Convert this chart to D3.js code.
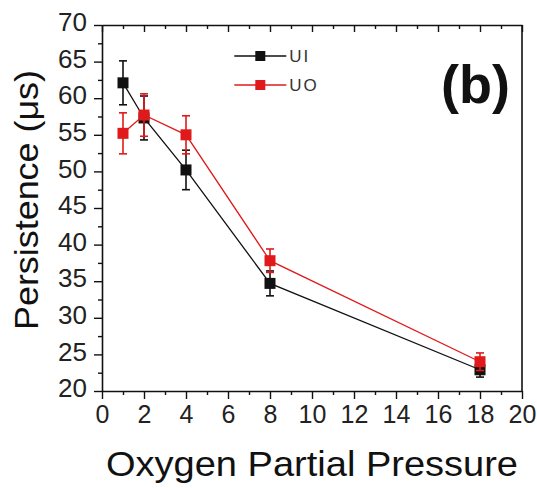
<!DOCTYPE html>
<html>
<head>
<meta charset="utf-8">
<script src="https://cdn.jsdelivr.net/npm/d3@7"></script>
<style>
  body { margin: 0; background: #fff; }
  svg { font-family: "Liberation Sans", Arial, sans-serif; }
</style>
</head>
<body>
<div id="chart"></div>
<script>
// oxygen partial pressure
const pressure = [1, 2, 4, 8, 18];
// persistence (us) and error bars
const ui = [62.1, 57.3, 50.2, 34.7, 22.9];
const uiErr = [3, 3, 2.7, 1.7, 1];
const uo = [55.2, 57.7, 55, 37.8, 24];
const uoErr = [2.8, 2.9, 2.6, 1.6, 1.2];
const xTicks = [0, 2, 4, 6, 8, 10, 12, 14, 16, 18, 20];
const yTicks = [20, 25, 30, 35, 40, 45, 50, 55, 60, 65, 70];

const series = [
  {name: "UI", values: ui, err: uiErr, color: "#111"},
  {name: "UO", values: uo, err: uoErr, color: "#e01a1a"}
];

const svg = d3.select("#chart").append("svg")
    .attr("width", 537)
    .attr("height", 488);

const margin = {top: 25, right: 15, bottom: 97, left: 102},
    width = 537 - margin.left - margin.right,
    height = 488 - margin.top - margin.bottom;

const x = d3.scaleLinear().domain([0, 20]).range([0, width]);
const y = d3.scaleLinear().domain([20, 70]).range([height, 0]);

const g = svg.append("g")
    .attr("transform", `translate(${margin.left},${margin.top})`);

// minor ticks
g.append("g")
    .attr("transform", `translate(0,${height})`)
    .call(d3.axisBottom(x).tickValues(d3.range(1, 20, 2)).tickSize(4).tickFormat(""))
    .call(a => a.select(".domain").remove());
g.append("g")
    .call(d3.axisTop(x).tickValues(d3.range(1, 20, 2)).tickSize(-4).tickFormat(""))
    .call(a => a.select(".domain").remove());
g.append("g")
    .call(d3.axisLeft(y).tickValues(d3.range(22.5, 70, 5)).tickSize(4).tickFormat(""))
    .call(a => a.select(".domain").remove());

// major ticks
g.append("g")
    .attr("class", "axis axis--x")
    .attr("transform", `translate(0,${height})`)
    .call(d3.axisBottom(x).tickValues(xTicks).tickSize(8).tickPadding(6).tickSizeOuter(0));
g.append("g")
    .call(d3.axisTop(x).tickValues(xTicks).tickSize(-7).tickFormat("").tickSizeOuter(0));
g.append("g")
    .attr("class", "axis axis--y")
    .call(d3.axisLeft(y).tickValues(yTicks).tickSize(8).tickPadding(7).tickSizeOuter(0));
g.append("line")
    .attr("x1", width).attr("x2", width)
    .attr("y1", 0).attr("y2", height)
    .attr("stroke", "#111").attr("stroke-width", 1.6);

g.selectAll(".domain").attr("stroke", "#111").attr("stroke-width", 1.6);
g.selectAll(".tick line").attr("stroke", "#111").attr("stroke-width", 1.4);
g.selectAll(".axis--x .tick text")
    .style("font-size", "25px").attr("fill", "#222");
g.selectAll(".axis--y .tick text")
    .style("font-size", "26px").attr("fill", "#222")
    .attr("dy", "0.22em");

// series
series.forEach(s => {
  const pts = pressure.map((p, i) => ({p: p, v: s.values[i], e: s.err[i]}));
  g.append("path")
      .datum(pts)
      .attr("fill", "none")
      .attr("stroke", s.color)
      .attr("stroke-width", 1.3)
      .attr("d", d3.line().x(d => x(d.p)).y(d => y(d.v)));

  const eb = g.append("g").selectAll("g")
      .data(pts).enter().append("g")
      .attr("stroke", s.color).attr("stroke-width", 1.6);
  eb.append("line")
      .attr("x1", d => x(d.p)).attr("x2", d => x(d.p))
      .attr("y1", d => y(d.v + d.e)).attr("y2", d => y(d.v - d.e));
  eb.append("line")
      .attr("x1", d => x(d.p) - 4).attr("x2", d => x(d.p) + 4)
      .attr("y1", d => y(d.v + d.e)).attr("y2", d => y(d.v + d.e));
  eb.append("line")
      .attr("x1", d => x(d.p) - 4).attr("x2", d => x(d.p) + 4)
      .attr("y1", d => y(d.v - d.e)).attr("y2", d => y(d.v - d.e));

  g.append("g").selectAll("rect")
      .data(pts).enter().append("rect")
      .attr("x", d => x(d.p) - 5.5)
      .attr("y", d => y(d.v) - 5.5)
      .attr("width", 11).attr("height", 11)
      .attr("fill", s.color);
});

// legend
const legend = g.append("g").attr("transform", `translate(${x(6.3)},0)`);
series.forEach((s, i) => {
  const ly = 31 + i * 29;
  legend.append("line")
      .attr("x1", 0).attr("x2", 52)
      .attr("y1", ly).attr("y2", ly)
      .attr("stroke", s.color).attr("stroke-width", 1.5);
  legend.append("rect")
      .attr("x", 21).attr("y", ly - 5)
      .attr("width", 10).attr("height", 10)
      .attr("fill", s.color);
  legend.append("text")
      .attr("x", 55).attr("y", ly + 6)
      .attr("font-size", 17)
      .attr("letter-spacing", 2)
      .attr("fill", "#333")
      .text(s.name);
});

// panel label
svg.append("text")
    .attr("x", 510).attr("y", 103)
    .attr("text-anchor", "end")
    .attr("font-size", 54)
    .attr("font-weight", "bold")
    .attr("fill", "#111")
    .text("(b)");

// axis titles
svg.append("text")
    .attr("x", margin.left + width / 2).attr("y", 476)
    .attr("text-anchor", "middle")
    .attr("font-size", 35)
    .attr("textLength", 412)
    .attr("lengthAdjust", "spacingAndGlyphs")
    .attr("fill", "#111")
    .text("Oxygen Partial Pressure");

svg.append("text")
    .attr("transform", "translate(38,200) rotate(-90)")
    .attr("text-anchor", "middle")
    .attr("font-size", 33)
    .attr("textLength", 260)
    .attr("lengthAdjust", "spacingAndGlyphs")
    .attr("fill", "#111")
    .text("Persistence (μs)");
</script>
</body>
</html>
